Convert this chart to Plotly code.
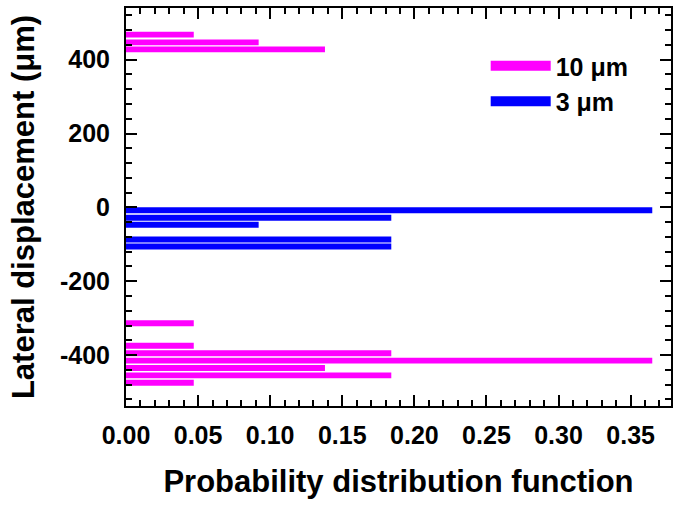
import plotly.graph_objects as go

# 10 µm series (lateral displacement bins, probability)
y10 = [468, 447, 428, -314, -375, -395, -415, -435, -455, -475]
p10 = [0.047, 0.092, 0.138, 0.047, 0.047, 0.184, 0.365, 0.138, 0.184, 0.047]
# 3 µm series
y3 = [-8, -28, -47, -87, -106]
p3 = [0.365, 0.184, 0.092, 0.184, 0.184]

xticks = [0.00, 0.05, 0.10, 0.15, 0.20, 0.25, 0.30, 0.35]
yticks = [-400, -200, 0, 200, 400]

MAG = "#FF00FF"
BLU = "#0000FF"
FONT = "Liberation Sans, Arial, sans-serif"

fig = go.Figure()
fig.add_trace(go.Bar(y=y10, x=p10, orientation="h", width=16, marker=dict(color=MAG, line=dict(width=0)),
                     showlegend=False, legendgroup="a"))
fig.add_trace(go.Bar(y=y3, x=p3, orientation="h", width=16, marker=dict(color=BLU, line=dict(width=0)),
                     showlegend=False, legendgroup="b"))
# legend entries
fig.add_trace(go.Scatter(x=[None], y=[None], mode="lines", line=dict(color=MAG, width=15),
                         name="10 \u03bcm", legendgroup="a"))
fig.add_trace(go.Scatter(x=[None], y=[None], mode="lines", line=dict(color=BLU, width=15),
                         name="3 \u03bcm", legendgroup="b"))

axis_common = dict(showline=True, linecolor="black", linewidth=2, mirror="ticks",
                   ticks="inside", ticklen=11, tickwidth=2, tickcolor="black",
                   showgrid=False, zeroline=False)

fig.update_xaxes(range=[0, 0.378], tickvals=xticks, ticktext=[f"{v:.2f}" for v in xticks],
                 tickfont=dict(family=FONT, size=25, color="black", weight="bold"),
                 ticklabelstandoff=6,
                 title=dict(text="Probability distribution function",
                            font=dict(family=FONT, size=31, color="black", weight="bold"), standoff=22),
                 minor=dict(dtick=0.01, ticks="inside", ticklen=6, tickwidth=1.5, tickcolor="black"),
                 **axis_common)
fig.update_yaxes(range=[-538, 540], tickvals=yticks, ticktext=[str(v) for v in yticks],
                 tickfont=dict(family=FONT, size=25, color="black", weight="bold"),
                 ticklabelstandoff=9,
                 title=dict(text="Lateral displacement (\u03bcm)",
                            font=dict(family=FONT, size=31, color="black", weight="bold"), standoff=16),
                 minor=dict(tick0=0, dtick=40, ticks="inside", ticklen=6, tickwidth=1.5, tickcolor="black"),
                 **axis_common)

fig.update_layout(
    width=679, height=507,
    margin=dict(l=126, r=6, t=6, b=101),
    paper_bgcolor="white", plot_bgcolor="white",
    barmode="overlay",
    legend=dict(x=0.66, y=0.912, xanchor="left", yanchor="top", bgcolor="rgba(0,0,0,0)",
                font=dict(family=FONT, size=25, color="black", weight="bold"),
                itemwidth=60, tracegroupgap=0),
)

fig.write_html("out.html")
